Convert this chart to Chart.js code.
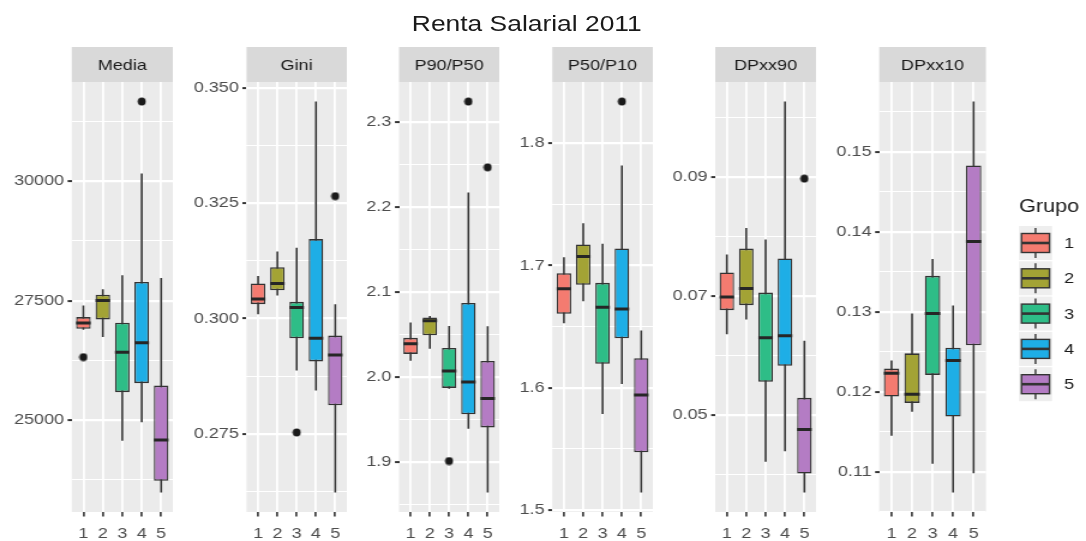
<!DOCTYPE html>
<html>
<head>
<meta charset="utf-8">
<title>Renta Salarial 2011</title>
<script src="https://cdn.jsdelivr.net/npm/chart.js@4.4.1/dist/chart.umd.min.js"></script>
<style>
  html, body { margin: 0; padding: 0; background: #ffffff; }
  /* the whole figure is laid out on a 905px stage that is widened 1.2x */
  #stage { position: absolute; left: 0; top: 0; width: 905px; height: 541px;
           transform: scaleX(1.2); transform-origin: 0 0; overflow: hidden; }
  #stage canvas { position: absolute; top: 0; }
  #title { position: absolute; top: 11px; left: 239px; width: 400px; line-height: 26px;
           font: 22px "Liberation Sans", Arial, sans-serif; color: #1a1a1a;
           text-align: center; white-space: nowrap; }
</style>
</head>
<body>
<div id="stage"><div id="title">Renta Salarial 2011</div></div>
<script>
// ---- data -------------------------------------------------------------
const groups = ['1', '2', '3', '4', '5'];
const groupColors = ['#F47B70', '#A3A335', '#2EBD87', '#1EAEE6', '#B47CC4'];
const facets = ['Media', 'Gini', 'P90/P50', 'P50/P10', 'DPxx90', 'DPxx10'];

// Media
const mediaLow      = [26890, 26738, 24570, 24956, 23488];
const mediaQ1       = [26912, 27107, 25585, 25773, 23732];
const mediaMedian   = [27031, 27505, 26423, 26618, 24585];
const mediaQ3       = [27157, 27625, 27038, 27891, 25723];
const mediaHigh     = [27400, 27736, 28029, 30161, 27975];
const mediaOutliers = [26318, null, null, 31665, null];
const mediaTicks    = ['25000', '27500', '30000'];

// Gini
const giniLow      = [0.3009, 0.3050, 0.2887, 0.2844, 0.2623];
const giniQ1       = [0.3031, 0.3061, 0.2957, 0.2907, 0.2812];
const giniMedian   = [0.3042, 0.3076, 0.3024, 0.2957, 0.2921];
const giniQ3       = [0.3076, 0.3111, 0.3036, 0.3172, 0.2963];
const giniHigh     = [0.3092, 0.3145, 0.3153, 0.3470, 0.3031];
const giniOutliers = [null, null, 0.2753, null, 0.3265];
const giniTicks    = ['0.275', '0.300', '0.325', '0.350'];

// P90/P50
const p9050Low      = [2.019, 2.033, 1.986, 1.939, 1.864];
const p9050Q1       = [2.027, 2.049, 1.987, 1.956, 1.9405];
const p9050Median   = [2.039, 2.066, 2.007, 1.994, 1.9746];
const p9050Q3       = [2.046, 2.070, 2.034, 2.087, 2.0188];
const p9050High     = [2.064, 2.0715, 2.060, 2.217, 2.0595];
const p9050Outliers = [null, null, 1.901, 2.324, 2.2466];
const p9050Ticks    = ['1.9', '2.0', '2.1', '2.2', '2.3'];

// P50/P10
const p5010Low      = [1.6528, 1.6708, 1.5786, 1.6032, 1.5145];
const p5010Q1       = [1.6605, 1.6842, 1.6196, 1.6405, 1.5473];
const p5010Median   = [1.6809, 1.7074, 1.6659, 1.6645, 1.5942];
const p5010Q3       = [1.6937, 1.7172, 1.6858, 1.7139, 1.6242];
const p5010High     = [1.7068, 1.7346, 1.7177, 1.7818, 1.6468];
const p5010Outliers = [null, null, null, 1.834, null];
const p5010Ticks    = ['1.5', '1.6', '1.7', '1.8'];

// DPxx90
const dp90Low      = [0.06357, 0.06603, 0.04214, 0.04393, 0.03700];
const dp90Q1       = [0.06760, 0.06843, 0.05557, 0.05825, 0.04018];
const dp90Median   = [0.06983, 0.07123, 0.06295, 0.06329, 0.04757];
const dp90Q3       = [0.07392, 0.07794, 0.07056, 0.07627, 0.05288];
const dp90High     = [0.07694, 0.08141, 0.07945, 0.10262, 0.06245];
const dp90Outliers = [null, null, null, null, 0.08969];
const dp90Ticks    = ['0.05', '0.07', '0.09'];

// DPxx10
const dp10Low      = [0.1145, 0.1175, 0.1110, 0.1074, 0.1098];
const dp10Q1       = [0.1194, 0.1186, 0.1221, 0.1169, 0.1258];
const dp10Median   = [0.1223, 0.1197, 0.1298, 0.1239, 0.1388];
const dp10Q3       = [0.1229, 0.1248, 0.1345, 0.1255, 0.1483];
const dp10High     = [0.1239, 0.1298, 0.1366, 0.1308, 0.1563];
const dp10Outliers = [null, null, null, null, null];
const dp10Ticks    = ['0.11', '0.12', '0.13', '0.14', '0.15'];

const facetData = [
  { low: mediaLow, q1: mediaQ1, med: mediaMedian, q3: mediaQ3, high: mediaHigh, out: mediaOutliers, ticks: mediaTicks },
  { low: giniLow,  q1: giniQ1,  med: giniMedian,  q3: giniQ3,  high: giniHigh,  out: giniOutliers,  ticks: giniTicks },
  { low: p9050Low, q1: p9050Q1, med: p9050Median, q3: p9050Q3, high: p9050High, out: p9050Outliers, ticks: p9050Ticks },
  { low: p5010Low, q1: p5010Q1, med: p5010Median, q3: p5010Q3, high: p5010High, out: p5010Outliers, ticks: p5010Ticks },
  { low: dp90Low,  q1: dp90Q1,  med: dp90Median,  q3: dp90Q3,  high: dp90High,  out: dp90Outliers,  ticks: dp90Ticks },
  { low: dp10Low,  q1: dp10Q1,  med: dp10Median,  q3: dp10Q3,  high: dp10High,  out: dp10Outliers,  ticks: dp10Ticks }
];

// ---- layout (page pixels; x is divided by S on the stage) -------------
const S = 1.2;
const PAGE_W = 1086, PAGE_H = 541;
const PANEL_LEFT = [71.7, 246.5, 399, 552.3, 715.2, 879.2];
const PANEL_W = 106.7;
const PANEL_TOP = 82, PANEL_BOTTOM = 512, STRIP_H = 35;
const BOX_WIDTH = 0.75;
const FONT = '"Liberation Sans", Arial, Helvetica, sans-serif';
const INK = '#333333';

// outlier dot, pre-squeezed so it stays round once the stage is widened
const DOT_D = 8;
const dot = document.createElement('canvas');
dot.width = Math.round(DOT_D / S) + 1;
dot.height = DOT_D + 1;
(function () {
  const c = dot.getContext('2d');
  c.fillStyle = '#1A1A1A';
  c.beginPath();
  c.ellipse(dot.width / 2, dot.height / 2, DOT_D / S / 2, DOT_D / 2, 0, 0, Math.PI * 2);
  c.fill();
})();

// panel background and facet strip
const facetPlugin = {
  id: 'facet',
  beforeDraw(chart, args, opts) {
    const { ctx, chartArea: a } = chart;
    ctx.save();
    ctx.fillStyle = '#EBEBEB';
    ctx.fillRect(a.left, a.top, a.right - a.left, a.bottom - a.top);
    ctx.fillStyle = '#D9D9D9';
    ctx.fillRect(a.left, a.top - STRIP_H, a.right - a.left, STRIP_H);
    ctx.fillStyle = '#1A1A1A';
    ctx.font = '15px ' + FONT;
    ctx.textAlign = 'center';
    ctx.textBaseline = 'middle';
    ctx.fillText(opts.label, (a.left + a.right) / 2, a.top - STRIP_H / 2 + 1);
    ctx.restore();
  }
};

// "Grupo" legend with boxplot keys, drawn to the right of the last panel
const legendPlugin = {
  id: 'groupLegend',
  afterDraw(chart) {
    const { ctx, chartArea: a } = chart;
    const x0 = a.right + (1019 - (PANEL_LEFT[5] + PANEL_W)) / S;
    ctx.save();
    ctx.fillStyle = '#1A1A1A';
    ctx.font = '18px ' + FONT;
    ctx.textAlign = 'left';
    ctx.textBaseline = 'middle';
    ctx.fillText('Grupo', x0, 207);
    const keyW = 33 / S, cx = x0 + keyW / 2;
    groups.forEach((g, k) => {
      const cy = 243 + k * 35.3;
      ctx.fillStyle = '#EEEEEE';
      ctx.fillRect(x0, cy - 17, keyW, 34);
      ctx.strokeStyle = INK;
      ctx.lineWidth = 1.4;
      ctx.beginPath();
      ctx.moveTo(cx, cy - 15); ctx.lineTo(cx, cy + 15);
      ctx.stroke();
      const bw = 28 / S;
      ctx.fillStyle = groupColors[k];
      ctx.fillRect(cx - bw / 2, cy - 9.5, bw, 19);
      ctx.lineWidth = 1.4;
      ctx.strokeRect(cx - bw / 2, cy - 9.5, bw, 19);
      ctx.lineWidth = 2.6;
      ctx.beginPath();
      ctx.moveTo(cx - bw / 2, cy); ctx.lineTo(cx + bw / 2, cy);
      ctx.stroke();
      ctx.fillStyle = '#1A1A1A';
      ctx.font = '15px ' + FONT;
      ctx.fillText(g, x0 + (1064 - 1019) / S, cy + 1);
    });
    ctx.restore();
  }
};

const stage = document.getElementById('stage');

facetData.forEach((f, i) => {
  const start = i === 0 ? 0 : PANEL_LEFT[i - 1] + PANEL_W;
  const end = i === facetData.length - 1 ? PAGE_W : PANEL_LEFT[i] + PANEL_W;
  const cl = Math.round(start / S);
  const cw = Math.round(end / S) - cl;
  const yAxisW = PANEL_LEFT[i] / S - cl;
  const rightPad = Math.max(0, cw - yAxisW - PANEL_W / S);

  const canvas = document.createElement('canvas');
  canvas.width = cw;
  canvas.height = PAGE_H;
  canvas.style.left = cl + 'px';
  stage.appendChild(canvas);

  // y range: data extent expanded by 5% each side
  const values = f.low.concat(f.high, f.out.filter(v => v !== null));
  const lo = Math.min(...values), hi = Math.max(...values);
  const pad = (hi - lo) * 0.05;
  const yMin = lo - pad, yMax = hi + pad;

  // major ticks from the labels, minor grid lines half-way between them
  const majors = f.ticks.map(t => ({ value: Number(t), text: t }));
  const step = majors[1].value - majors[0].value;
  const minors = [];
  for (let k = -1; k < majors.length; k++) {
    const v = majors[0].value + (k + 0.5) * step;
    if (v > yMin && v < yMax) minors.push({ value: v, text: '' });
  }
  const yTicks = majors.concat(minors).sort((a, b) => a.value - b.value);

  const whiskerPts = [], medianPts = [], outlierPts = [];
  groups.forEach((g, j) => {
    whiskerPts.push({ x: j + 1, y: f.low[j] }, { x: j + 1, y: f.high[j] }, { x: j + 1, y: null });
    medianPts.push({ x: j + 1 - BOX_WIDTH / 2, y: f.med[j] }, { x: j + 1 + BOX_WIDTH / 2, y: f.med[j] }, { x: j + 1, y: null });
    if (f.out[j] !== null) outlierPts.push({ x: j + 1, y: f.out[j] });
  });

  const plugins = [facetPlugin];
  if (i === facetData.length - 1) plugins.push(legendPlugin);

  new Chart(canvas, {
    type: 'bar',
    data: {
      datasets: [
        {
          type: 'line', data: whiskerPts, order: 3,
          borderColor: INK, borderWidth: 1.6, pointRadius: 0, fill: false, spanGaps: false
        },
        {
          type: 'bar', order: 2,
          data: groups.map((g, j) => ({ x: j + 1, y: [f.q1[j], f.q3[j]] })),
          backgroundColor: groupColors, borderColor: INK,
          borderWidth: { top: 1.6, bottom: 1.6, left: 1.3, right: 1.3 },
          borderSkipped: false, barPercentage: BOX_WIDTH, categoryPercentage: 1
        },
        {
          type: 'line', data: medianPts, order: 1,
          borderColor: '#262626', borderWidth: 3, borderCapStyle: 'butt',
          pointRadius: 0, fill: false, spanGaps: false
        },
        {
          type: 'line', data: outlierPts, order: 0, showLine: false,
          pointStyle: dot, pointRadius: 4
        }
      ]
    },
    options: {
      responsive: false,
      animation: false,
      events: [],
      layout: { padding: { top: PANEL_TOP, bottom: 0, left: 0, right: rightPad } },
      plugins: {
        legend: { display: false },
        tooltip: { enabled: false },
        facet: { label: facets[i] }
      },
      scales: {
        x: {
          type: 'linear', min: 0.4, max: 5.6, bounds: 'data', offset: false,
          afterBuildTicks: axis => { axis.ticks = groups.map((g, j) => ({ value: j + 1 })); },
          afterFit: axis => { axis.height = PAGE_H - PANEL_BOTTOM; },
          ticks: {
            callback: v => groups[Math.round(v) - 1] || '',
            color: '#4D4D4D', font: { family: FONT, size: 15 },
            padding: 8, autoSkip: false, maxRotation: 0
          },
          grid: { offset: false, color: '#FFFFFF', lineWidth: 1.8, tickColor: INK, tickLength: 4.5, tickWidth: 1.6 },
          border: { display: false }
        },
        y: {
          type: 'linear', min: yMin, max: yMax, bounds: 'data',
          afterBuildTicks: axis => { axis.ticks = yTicks.map(t => ({ value: t.value, text: t.text })); },
          afterFit: axis => { axis.width = yAxisW; },
          ticks: {
            callback: (v, idx, ticks) => ticks[idx].text,
            color: '#4D4D4D', font: { family: FONT, size: 15 },
            padding: 3, autoSkip: false
          },
          grid: {
            color: '#FFFFFF',
            lineWidth: c => (c.tick && c.tick.text === '' ? 1.1 : 2.2),
            tickColor: c => (c.tick && c.tick.text === '' ? 'rgba(0,0,0,0)' : INK),
            tickLength: 3.4, tickWidth: 2
          },
          border: { display: false }
        }
      }
    },
    plugins
  });
});
</script>
</body>
</html>
